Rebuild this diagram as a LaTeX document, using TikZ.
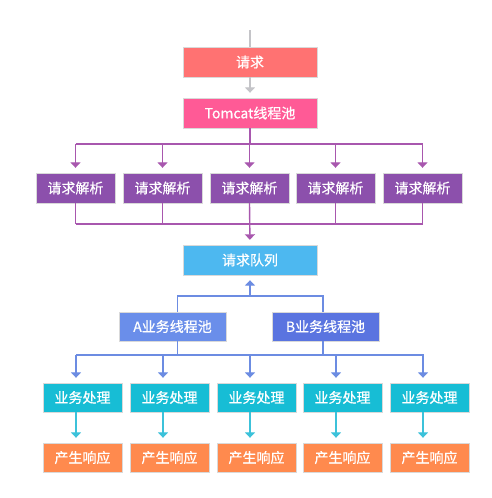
\documentclass[tikz,border=0pt]{standalone}
\usepackage{fontspec}
\setmainfont{Noto Sans CJK SC}
\newfontfamily\boxfont{Noto Sans CJK SC}[FakeBold=0.6]
\usetikzlibrary{arrows.meta}
\definecolor{cReq}{HTML}{FF7272}
\definecolor{cTom}{HTML}{FF5A96}
\definecolor{cParse}{HTML}{8C50AC}
\definecolor{cQueue}{HTML}{4DB8F0}
\definecolor{cA}{HTML}{6A8EEA}
\definecolor{cB}{HTML}{5A74E0}
\definecolor{cBiz}{HTML}{17BDD5}
\definecolor{cResp}{HTML}{FF8A4E}
\definecolor{lGray}{HTML}{C4C4C8}
\definecolor{lPurple}{HTML}{A857AE}
\definecolor{lBlue}{HTML}{6C8CE2}
\definecolor{lTeal}{HTML}{3CC2DA}
\tikzset{
  box/.style={rectangle, inner sep=0pt, text=white, font=\boxfont\fontsize{14}{16}\selectfont, draw=white!85!black, line width=0.4pt},
  wide/.style={box, minimum width=134pt, minimum height=30pt},
  mid/.style={box, minimum width=107pt, minimum height=29pt},
  small/.style={box, minimum width=79pt, minimum height=30pt},
  conn/.style={line width=1.4pt},
  arr/.style={conn, -{Triangle[width=10pt,length=5.5pt]}, shorten >=5pt}
}
\begin{document}
\begin{tikzpicture}[x=1pt,y=-1pt]
\useasboundingbox[fill=white] (0,0) rectangle (491,498);
% nodes
\node[wide, fill=cReq] (req) at (250,62) {请求};
\node[wide, fill=cTom] (tom) at (250,113) {Tomcat线程池};
\foreach \i/\x in {1/75.5,2/162.5,3/249.5,4/335.5,5/422.5}
  \node[small, fill=cParse] (p\i) at (\x,188) {请求解析};
\node[wide, fill=cQueue] (queue) at (250,260) {请求队列};
\node[mid, fill=cA] (A) at (172.5,326.5) {A业务线程池};
\node[mid, fill=cB] (B) at (325.5,326.5) {B业务线程池};
\foreach \i/\x in {1/82.5,2/169.5,3/256.5,4/342.5,5/429.5}{
  \node[small, minimum height=29pt, fill=cBiz] (b\i) at (\x,397.5) {业务处理};
  \node[small, minimum height=29pt, fill=cResp] (r\i) at (\x,457.5) {产生响应};
}
% coordinates
\coordinate (top) at (250,30);
\coordinate (pbus) at (250,144);
\coordinate (cbus) at (250,224);
\coordinate (qbus) at (250,296);
\coordinate (bbus) at (250,355);
% gray
\draw[conn, lGray] (top) -- (req.north);
\draw[arr, lGray] (req.south) -- (tom.north);
% purple fan-out
\draw[conn, lPurple] (tom.south) -- (pbus);
\draw[conn, lPurple] (p1 |- pbus) -- (p5 |- pbus);
\foreach \i in {1,...,5}
  \draw[arr, lPurple] (p\i |- pbus) -- (p\i.north);
% purple fan-in
\foreach \i in {1,2,4,5}
  \draw[conn, lPurple] (p\i.south) -- (p\i |- cbus);
\draw[conn, lPurple] (p1 |- cbus) -- (p5 |- cbus);
\draw[arr, lPurple] (p3.south) -- (queue.north);
% blue up
\draw[conn, lBlue] ([xshift=5pt]A.north) |- (qbus) -| ([xshift=-2.5pt]B.north);
\draw[arr, lBlue] (qbus) -- (queue.south);
% blue down
\draw[conn, lBlue] ([xshift=5pt]A.south) -- ([xshift=5pt]A.south |- bbus);
\draw[conn, lBlue] ([xshift=-2.5pt]B.south) -- ([xshift=-2.5pt]B.south |- bbus);
\draw[conn, lBlue] ([xshift=-6.5pt]b1.north |- bbus) -- ([xshift=-5.5pt]b5.north |- bbus);
\foreach \i in {1,...,5}
  \draw[arr, lBlue] ([xshift=-6.5pt]b\i.north |- bbus) -- ([xshift=-6.5pt]b\i.north);
% teal
\foreach \i in {1,...,5}
  \draw[arr, lTeal] ([xshift=-6.5pt]b\i.south) -- ([xshift=-6.5pt]r\i.north);
\end{tikzpicture}
\end{document}
